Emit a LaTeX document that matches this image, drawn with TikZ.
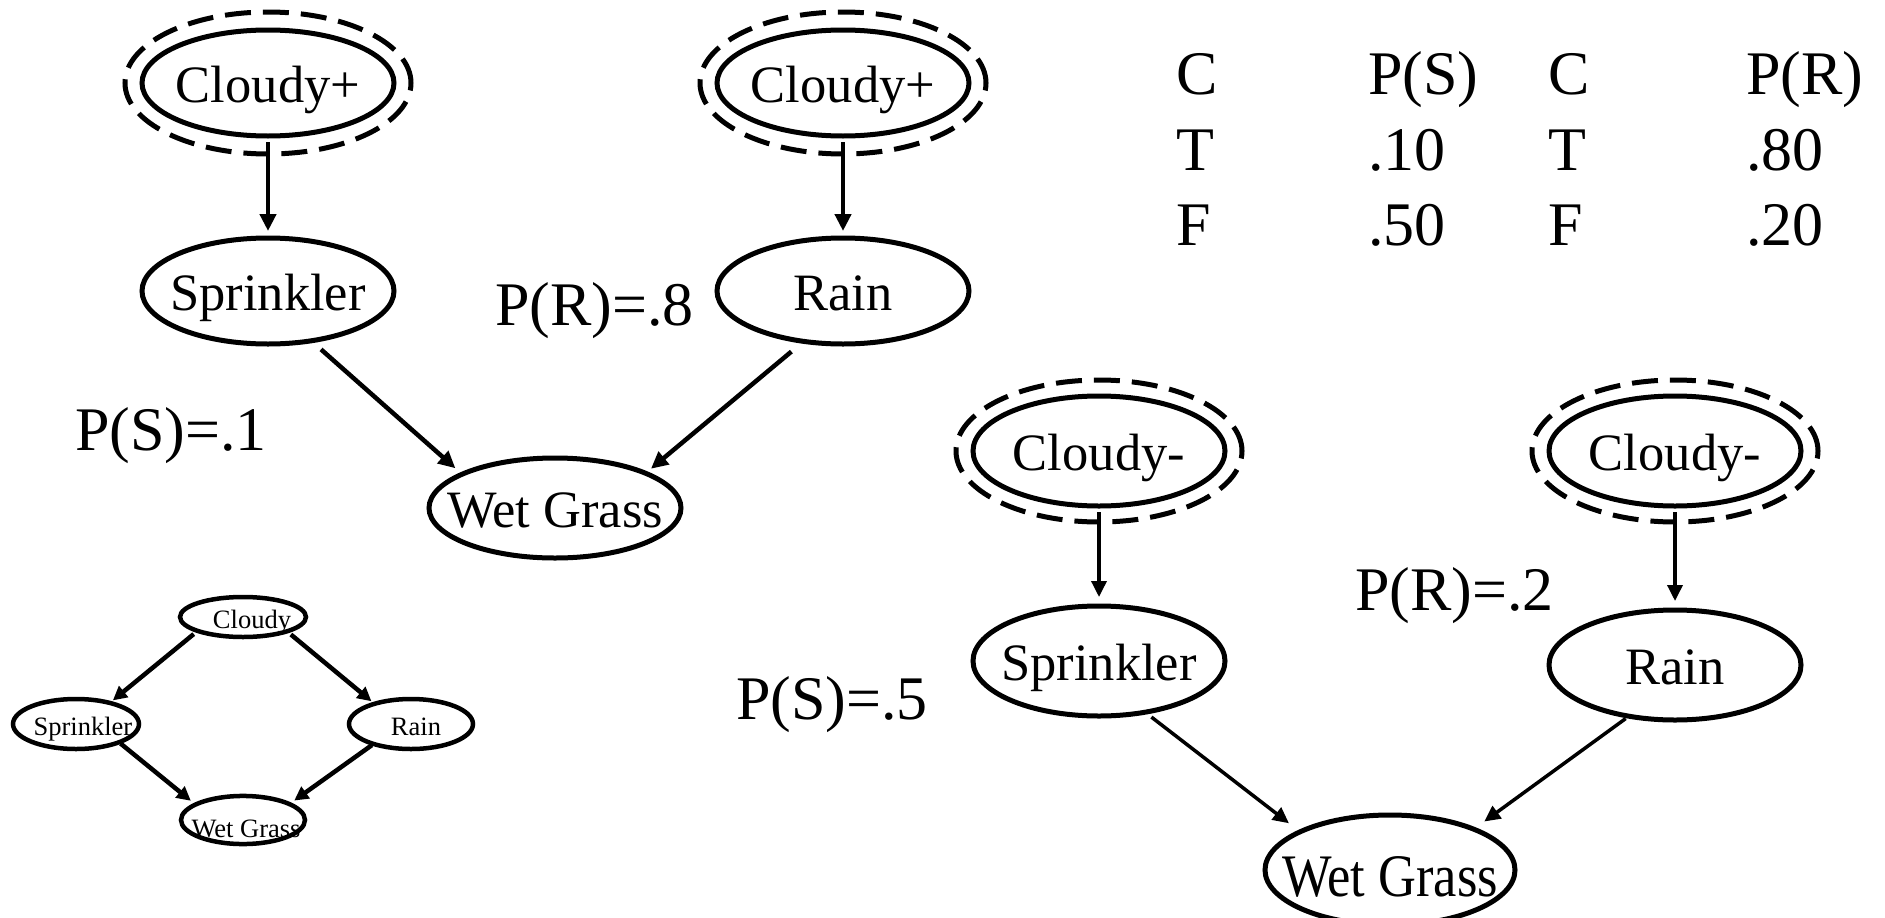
\documentclass[tikz,border=0pt]{standalone}
\usepackage{fontspec}
\setmainfont{Liberation Serif}
\usetikzlibrary{shapes.geometric,arrows.meta}
% zero-width box so the ellipse size comes only from the minimum sizes
\newcommand\nodetext[1]{\makebox[0pt]{#1}}
\begin{document}
\begin{tikzpicture}[x=1pt,y=-1pt,
  bnode/.style={ellipse, draw, line width=5pt, inner sep=0pt, outer sep=0pt,
    minimum width=252pt, minimum height=106pt,
    font=\fontsize{52.5}{60}\selectfont, text height=38pt, text depth=0pt},
  ring/.style={ellipse, draw, line width=5pt, dash pattern=on 26pt off 12pt,
    inner sep=0pt, outer sep=0pt, minimum width=286pt, minimum height=142pt},
  edge/.style={line width=4.5pt, -{Triangle[length=17pt,width=16pt]}},
  thinedge/.style={line width=3.5pt, -{Triangle[length=16pt,width=15pt]}},
  lbl/.style={anchor=base west, inner sep=0pt, font=\fontsize{62}{70}\selectfont},
  snode/.style={ellipse, draw, line width=4.5pt, inner sep=0pt, outer sep=0pt,
    minimum width=126pt, minimum height=48pt,
    font=\fontsize{26.5}{30}\selectfont, text height=22pt, text depth=0pt},
  sedge/.style={line width=4.5pt, -{Triangle[length=14pt,width=14pt]}}]
\useasboundingbox[fill=white] (0,0) rectangle (1885,918);

% ---- network with Cloudy observed true ----
\node[bnode] (cl1) at (268,83) {\nodetext{Cloudy+}};
\node[ring] (cl1r) at (268,83) {};
\node[bnode] (cl2) at (843,83) {\nodetext{Cloudy+}};
\node[ring] (cl2r) at (843,83) {};
\node[bnode] (sp1) at (268,291) {\nodetext{Sprinkler}};
\node[bnode] (rn1) at (843,291) {\nodetext{Rain}};
\node[bnode, minimum height=100pt] (wg1) at (555,508) {\nodetext{Wet Grass}};
\node[lbl] (ps1) at (75,450) {P(S)=.1};
\node[lbl] (pr1) at (495,325) {P(R)=.8};

\draw[edge, shorten <=6pt, shorten >=7pt] (cl1.south) -- (sp1.north);
\draw[edge, shorten <=6pt, shorten >=7pt] (cl2.south) -- (rn1.north);
\draw[edge, shorten <=13pt, shorten >=9pt] (sp1.-49) -- (wg1.160);
\draw[edge, shorten <=16pt, shorten >=7pt] (rn1.-128) -- (wg1.21);

% ---- conditional probability tables ----
\node[lbl] (h1) at (1176,94) {C};
\node[lbl] (h2) at (1368,94) {P(S)};
\node[lbl] (h3) at (1548,94) {C};
\node[lbl] (h4) at (1746,94) {P(R)};
\node[lbl] (a1) at (1176,170) {T};
\node[lbl] (a2) at (1368,170) {.10};
\node[lbl] (a3) at (1548,170) {T};
\node[lbl] (a4) at (1746,170) {.80};
\node[lbl] (b1) at (1176,245) {F};
\node[lbl] (b2) at (1368,245) {.50};
\node[lbl] (b3) at (1548,245) {F};
\node[lbl] (b4) at (1746,245) {.20};

% ---- network with Cloudy observed false ----
\node[bnode, minimum height=110pt] (cm1) at (1099,451) {\nodetext{Cloudy-}};
\node[ring] (cm1r) at (1099,451) {};
\node[bnode, minimum height=110pt] (cm2) at (1675,451) {\nodetext{Cloudy-}};
\node[ring] (cm2r) at (1675,451) {};
\node[bnode, minimum height=110pt] (sp2) at (1099,661) {\nodetext{Sprinkler}};
\node[bnode, minimum height=110pt] (rn2) at (1675,665) {\nodetext{Rain}};
\node[bnode, minimum width=250pt, minimum height=110pt, text height=52pt]
  (wg2) at (1390,870) {\nodetext{\scalebox{1}[1.15]{Wet Grass}}};
\node[lbl] (ps2) at (736,719) {P(S)=.5};
\node[lbl] (pr2) at (1355,610) {P(R)=.2};

\draw[thinedge, shorten <=6pt, shorten >=9pt] (cm1.south) -- (sp2.north);
\draw[thinedge, shorten <=6pt, shorten >=9pt] (cm2.south) -- (rn2.north);
\draw[thinedge, shorten <=8pt, shorten >=14pt] (sp2.-48) -- (wg2.157);
\draw[thinedge, shorten <=4pt, shorten >=13pt] (rn2.-132) -- (wg2.26);

% ---- small overview network ----
\node[snode, minimum height=40pt] (c0) at (243,617) {\nodetext{\kern18pt Cloudy}};
\node[snode, minimum height=50pt] (s0) at (76,724) {\nodetext{\kern14pt Sprinkler}};
\node[snode, minimum width=124pt, minimum height=50pt] (r0) at (411,724) {\nodetext{\kern10pt Rain}};
\node[snode, minimum width=124pt, minimum height=42pt, text height=34pt] (w0) at (243,820) {\nodetext{\kern6pt Wet Grass}};

\draw[sedge, shorten <=5pt, shorten >=4pt] (c0.-163) -- (s0.32);
\draw[sedge, shorten <=5pt, shorten >=4pt] (c0.-18) -- (r0.151);
\draw[sedge, shorten <=2pt, shorten >=6pt] (s0.-23) -- (w0.162);
\draw[sedge, shorten <=2pt, shorten >=6pt] (r0.-152) -- (w0.19);
\end{tikzpicture}
\end{document}
